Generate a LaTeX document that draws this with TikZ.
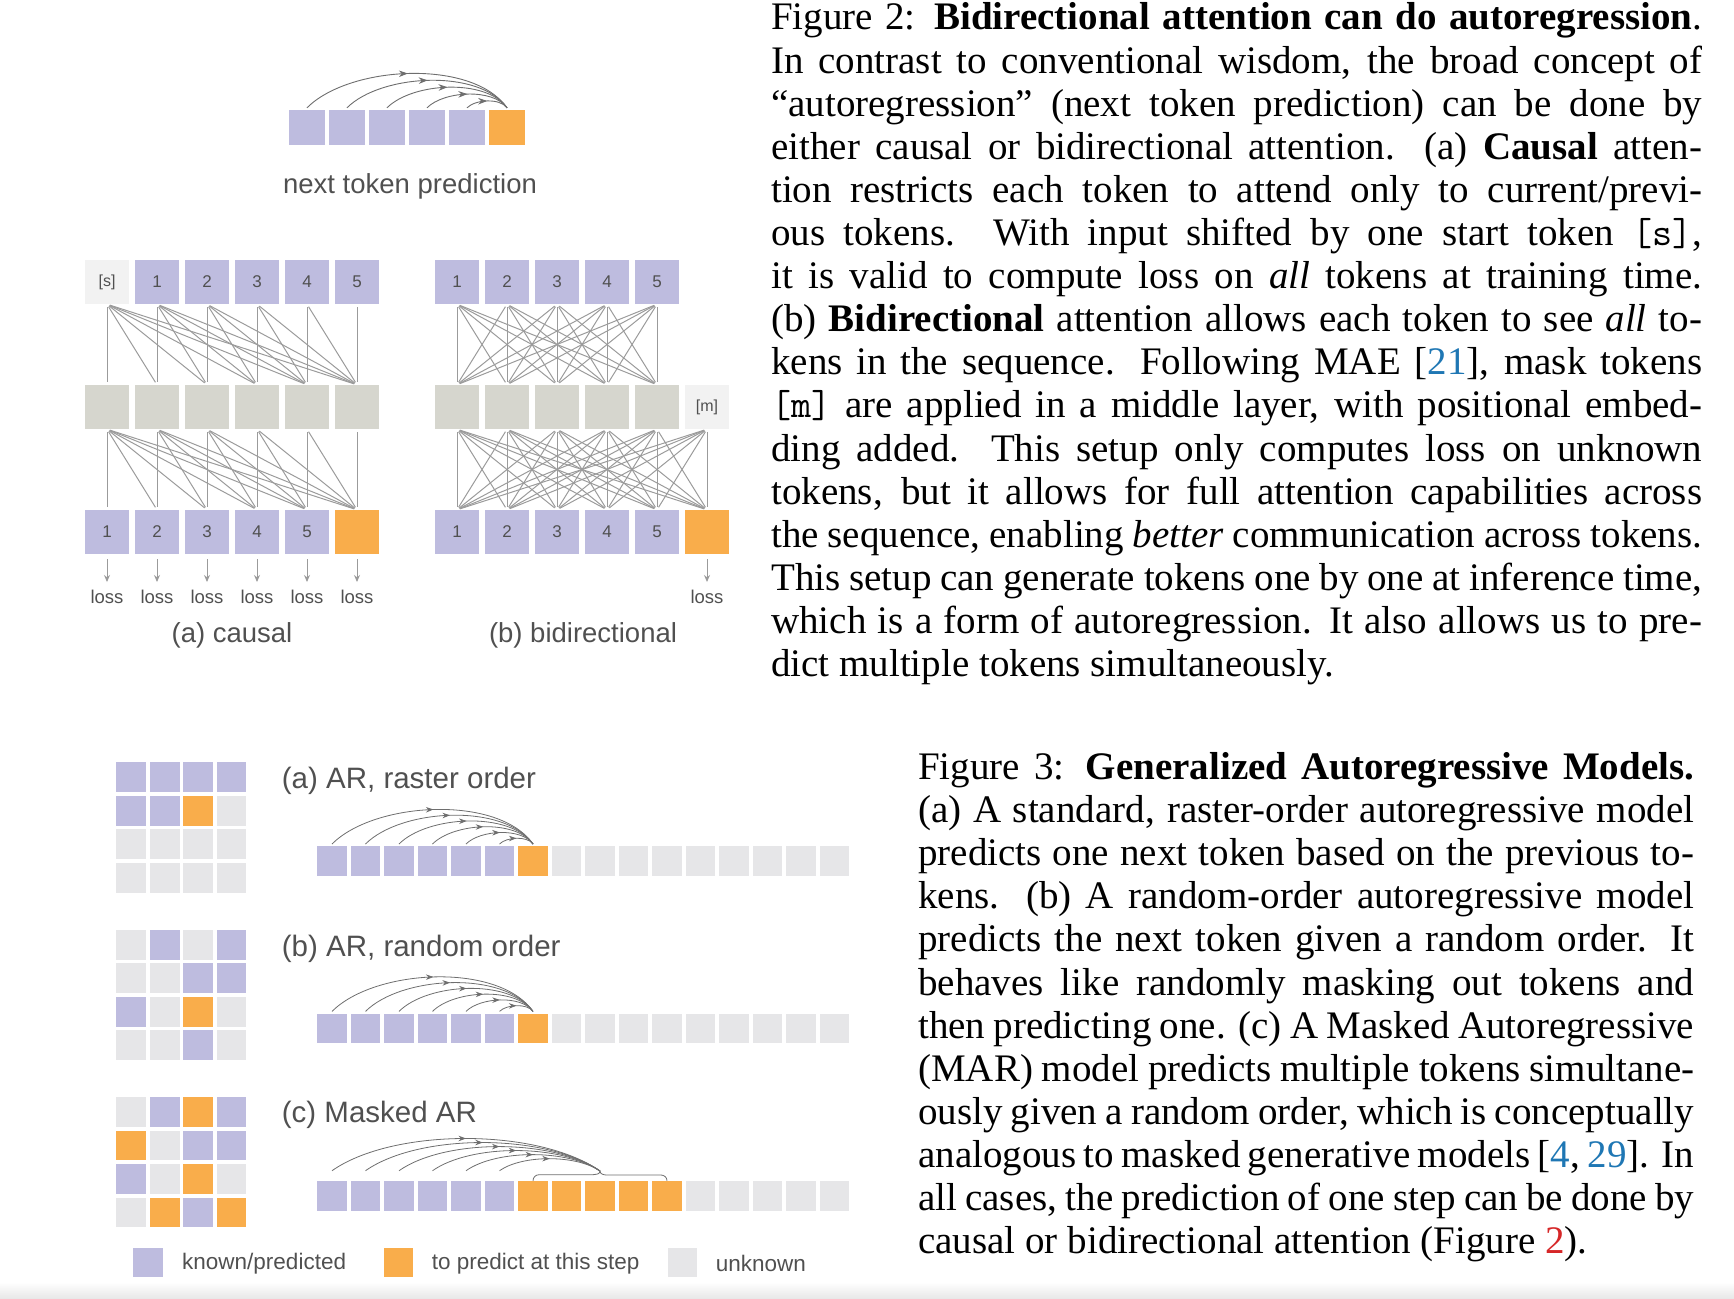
\documentclass[tikz,border=0pt]{standalone}
\usepackage{fontspec}
\setmainfont{Liberation Serif}
\newfontfamily\diagfont{Liberation Sans}
\usetikzlibrary{arrows.meta,decorations.markings}

\definecolor{knownc}{RGB}{190,188,223}
\definecolor{predc}{RGB}{249,173,75}
\definecolor{hidc}{RGB}{214,214,206}
\definecolor{specc}{RGB}{242,242,242}
\definecolor{unkc}{RGB}{230,230,232}
\definecolor{wirec}{RGB}{155,155,155}
\definecolor{arcc}{RGB}{110,110,110}
\definecolor{labelc}{RGB}{80,80,80}
\definecolor{citeblue}{RGB}{31,119,180}
\definecolor{refred}{RGB}{214,39,40}

\newcommand{\jlA}[1]{\makebox[931pt][s]{#1}}
\newcommand{\jlB}[1]{\makebox[776pt][s]{#1}}

\tikzset{
  tok/.style={rectangle, inner sep=0pt, minimum width=44pt, minimum height=44pt,
    text=labelc, font=\diagfont\fontsize{17}{17}\selectfont},
  knowntok/.style={tok, fill=knownc},
  predtok/.style={tok, fill=predc},
  hidtok/.style={tok, fill=hidc},
  spectok/.style={tok, fill=specc, font=\diagfont\fontsize{16}{16}\selectfont},
  ntok/.style={rectangle, inner sep=0pt, minimum width=36pt, minimum height=35pt},
  cell/.style={rectangle, inner sep=0pt, minimum width=29.8pt, minimum height=29.6pt},
  cellk/.style={cell, fill=knownc},
  cellp/.style={cell, fill=predc},
  cellu/.style={cell, fill=unkc},
  wire/.style={draw=wirec, line width=1pt, shorten <=3pt, shorten >=3pt},
  lossarrow/.style={draw=wirec, line width=1pt, shorten <=5pt, shorten >=8pt,
    -{Stealth[length=7pt, width=6pt]}},
  losstxt/.style={inner sep=0pt, text=labelc, font=\diagfont\fontsize{18.5}{18.5}\selectfont},
  sublabel/.style={inner sep=0pt, text=labelc, font=\diagfont\fontsize{27.5}{27.5}\selectfont},
  steplabel/.style={inner sep=0pt, anchor=west, text=labelc, font=\diagfont\fontsize{29.5}{29.5}\selectfont},
  legtxt/.style={inner sep=0pt, anchor=west, text=labelc, font=\diagfont\fontsize{22.5}{22.5}\selectfont},
  arcbig/.style={color=arcc, line width=0.9pt, postaction={decorate},
    decoration={markings, mark=at position 0.5 with {\arrow{Stealth[length=9pt, width=6.5pt]}}}},
  arcsmall/.style={color=arcc, line width=0.8pt, postaction={decorate},
    decoration={markings, mark=at position 0.5 with {\arrow{Stealth[length=7.5pt, width=5.5pt]}}}},
  captext/.style={inner sep=0pt, anchor=base west, font=\fontsize{39}{43.1}\selectfont}
}

\begin{document}
\begin{tikzpicture}[x=1pt, y=1pt]
  \useasboundingbox (0,0) rectangle (1734,-1298);
  \shade[top color=white, bottom color=black!9] (0,-1282) rectangle (1734,-1298);

  % next token prediction
  \foreach \i in {0,...,4}
    \node[ntok, fill=knownc] (nt\i) at ({307+40*\i}, -127.5) {};
  \node[ntok, fill=predc] (nt5) at (507, -127.5) {};
  \foreach \i in {0,...,4}
    \draw[arcbig] ([yshift=2pt]nt\i.north) to[out=45, in=125, looseness=0.77] ([yshift=2pt]nt5.north);
  \node[sublabel] (ntlabel) at (410, -186) {next token prediction};

  % (a) causal
  \node[spectok] (ca-t0) at (107, -282) {[s]};
  \foreach \i in {1,...,5}
    \node[knowntok] (ca-t\i) at ({107+50*\i}, -282) {\i};
  \foreach \i in {0,...,5}
    \node[hidtok] (ca-m\i) at ({107+50*\i}, -407) {};
  \foreach \i in {0,...,4}
    \node[knowntok] (ca-b\i) at ({107+50*\i}, -532) {\the\numexpr\i+1\relax};
  \node[predtok] (ca-b5) at (357, -532) {};
  \foreach \i in {0,...,5}
    \foreach \j in {\i,...,5} {
      \draw[wire] (ca-t\i.south) -- (ca-m\j.north);
      \draw[wire] (ca-m\i.south) -- (ca-b\j.north);
    }
  \foreach \i in {0,...,5} {
    \node[losstxt] (ca-l\i) at ({107+50*\i}, -597) {loss};
    \draw[lossarrow] (ca-b\i.south) -- (ca-l\i.north);
  }
  \node[sublabel] (calabel) at (232, -635) {(a) causal};

  % (b) bidirectional
  \foreach \i in {0,...,4} {
    \node[knowntok] (bi-t\i) at ({457+50*\i}, -282) {\the\numexpr\i+1\relax};
    \node[hidtok] (bi-m\i) at ({457+50*\i}, -407) {};
    \node[knowntok] (bi-b\i) at ({457+50*\i}, -532) {\the\numexpr\i+1\relax};
  }
  \node[spectok] (bi-m5) at (707, -407) {[m]};
  \node[predtok] (bi-b5) at (707, -532) {};
  \foreach \i in {0,...,4}
    \foreach \j in {0,...,4}
      \draw[wire] (bi-t\i.south) -- (bi-m\j.north);
  \foreach \i in {0,...,5}
    \foreach \j in {0,...,5}
      \draw[wire] (bi-m\i.south) -- (bi-b\j.north);
  \node[losstxt] (bi-l5) at (707, -597) {loss};
  \draw[lossarrow] (bi-b5.south) -- (bi-l5.north);
  \node[sublabel] (bilabel) at (583, -635) {(b) bidirectional};

  % Figure 3: grids
  \foreach \s [count=\n from 0] in {k,k,k,k, k,k,p,u, u,u,u,u, u,u,u,u}
    \node[cell\s] (ga-\n) at ({131.3+33.4*mod(\n,4)}, {-777.2-33.5*int(\n/4)}) {};
  \foreach \s [count=\n from 0] in {u,k,u,k, u,u,k,k, k,u,p,u, u,u,k,u}
    \node[cell\s] (gb-\n) at ({131.3+33.4*mod(\n,4)}, {-944.7-33.5*int(\n/4)}) {};
  \foreach \s [count=\n from 0] in {u,k,p,k, p,u,k,k, k,u,p,u, u,p,k,p}
    \node[cell\s] (gc-\n) at ({131.3+33.4*mod(\n,4)}, {-1112.1-33.5*int(\n/4)}) {};

  % Figure 3: sequences
  \foreach \s [count=\n from 0] in {k,k,k,k,k,k,p,u,u,u,u,u,u,u,u,u}
    \node[cell\s] (ra-\n) at ({332+33.5*\n}, -861) {};
  \foreach \s [count=\n from 0] in {k,k,k,k,k,k,p,u,u,u,u,u,u,u,u,u}
    \node[cell\s] (rb-\n) at ({332+33.5*\n}, -1028.4) {};
  \foreach \s [count=\n from 0] in {k,k,k,k,k,k,p,p,p,p,p,u,u,u,u,u}
    \node[cell\s] (rc-\n) at ({332+33.5*\n}, -1195.7) {};

  \foreach \i in {0,...,5} {
    \draw[arcsmall] ([yshift=2pt]ra-\i.north) to[out=45, in=125, looseness=0.77] ([yshift=2pt]ra-6.north);
    \draw[arcsmall] ([yshift=2pt]rb-\i.north) to[out=45, in=125, looseness=0.77] ([yshift=2pt]rb-6.north);
  }
  \coordinate (tip) at (600, -1171);
  \foreach \i in {0,...,5}
    \draw[arcsmall] ([yshift=10pt]rc-\i.north) to[out=35, in=145, looseness=0.72] (tip);
  \draw[color=arcc, line width=0.8pt] (rc-6.north) to[out=90, in=180] ++(6,6) -- ++(54,0)
    to[out=0, in=-90] (tip) to[out=-90, in=180] ++(7,-4) -- ++(54,0) to[out=0, in=90] (rc-10.north);

  \node[steplabel] (laba) at (281.7, -781) {(a) AR, raster order};
  \node[steplabel] (labb) at (281.7, -948.6) {(b) AR, random order};
  \node[steplabel] (labc) at (281.7, -1115) {(c) Masked AR};

  % legend
  \node[cellk] (legk) at (148.3, -1262.5) {};
  \node[legtxt] (legktxt) at (182, -1263.7) {known/predicted};
  \node[cellp] (legp) at (398.5, -1262.5) {};
  \node[legtxt] (legptxt) at (431.7, -1263.7) {to predict at this step};
  \node[cellu] (legu) at (682.5, -1262.5) {};
  \node[legtxt] (legutxt) at (715.7, -1263.7) {unknown};

  % captions
  \foreach \ln [count=\k from 0] in {
    {\jlA{Figure 2: \textbf{Bidirectional attention can do autoregression}.}},
    {\jlA{In contrast to conventional wisdom, the broad concept of}},
    {\jlA{“autoregression” (next token prediction) can be done by}},
    {\jlA{either causal or bidirectional attention. (a) \textbf{Causal} atten-}},
    {\jlA{tion restricts each token to attend only to current/previ-}},
    {\jlA{ous tokens. With input shifted by one start token \texttt{[s]},}},
    {\jlA{it is valid to compute loss on \textit{all} tokens at training time.}},
    {\jlA{(b) \textbf{Bidirectional} attention allows each token to see \textit{all} to-}},
    {\jlA{kens in the sequence. Following MAE [\textcolor{citeblue}{21}], mask tokens}},
    {\jlA{\texttt{[m]} are applied in a middle layer, with positional embed-}},
    {\jlA{ding added. This setup only computes loss on unknown}},
    {\jlA{tokens, but it allows for full attention capabilities across}},
    {\jlA{the sequence, enabling \textit{better} communication across tokens.}},
    {\jlA{This setup can generate tokens one by one at inference time,}},
    {\jlA{which is a form of autoregression. It also allows us to pre-}},
    {dict multiple tokens simultaneously.}}
    \node[captext] (capa-\k) at (771, {-30-43.1*\k}) {\ln};

  \foreach \ln [count=\k from 0] in {
    {\jlB{Figure 3: \textbf{Generalized Autoregressive Models.}}},
    {\jlB{(a) A standard, raster-order autoregressive model}},
    {\jlB{predicts one next token based on the previous to-}},
    {\jlB{kens. (b) A random-order autoregressive model}},
    {\jlB{predicts the next token given a random order. It}},
    {\jlB{behaves like randomly masking out tokens and}},
    {\jlB{then predicting one. (c) A Masked Autoregressive}},
    {\jlB{(MAR) model predicts multiple tokens simultane-}},
    {\jlB{ously given a random order, which is conceptually}},
    {\jlB{analogous to masked generative models [\textcolor{citeblue}{4}, \textcolor{citeblue}{29}]. In}},
    {\jlB{all cases, the prediction of one step can be done by}},
    {causal or bidirectional attention (Figure \textcolor{refred}{2}).}}
    \node[captext] (capb-\k) at (918, {-779.5-43.1*\k}) {\ln};
\end{tikzpicture}
\end{document}
